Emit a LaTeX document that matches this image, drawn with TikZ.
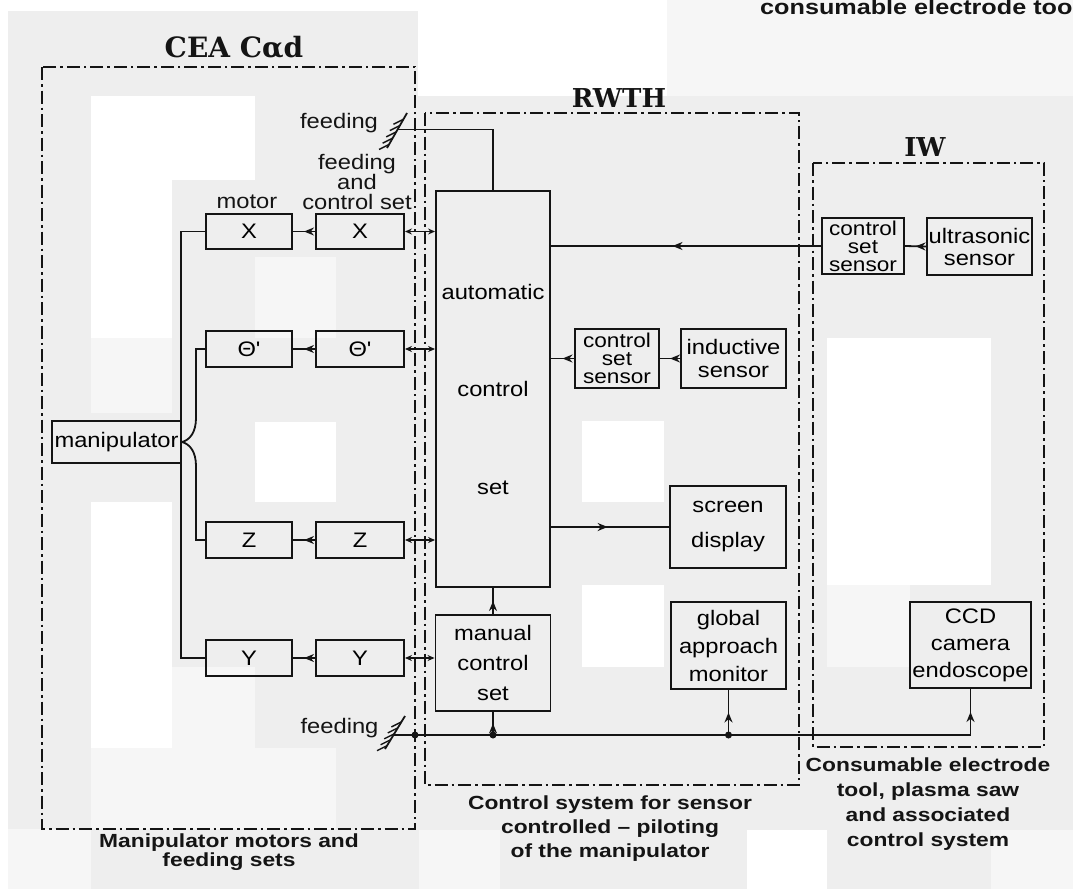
\documentclass[tikz,border=0pt]{standalone}
\usepackage{fontspec}
\setmainfont{Liberation Sans}
\newfontfamily\labfont[FakeStretch=1.13]{Liberation Sans}
\newfontfamily\capfont[FakeStretch=1.2]{Liberation Sans}
\newfontfamily\ttlfont{DejaVu Serif}
\usetikzlibrary{arrows.meta,decorations.markings,calc}
\definecolor{ink}{RGB}{20,20,20}
\definecolor{bggray}{RGB}{238,238,238}
\definecolor{bglight}{RGB}{246,246,246}
\tikzset{
  box/.style={draw=ink, line width=1.9pt, inner sep=0pt, align=center,
    font=\labfont\fontsize{21}{21}\selectfont},
  lbl/.style={inner sep=0pt, align=center, text=ink, font=\labfont\fontsize{21}{20}\selectfont},
  ttl/.style={inner sep=0pt, text=ink, font=\ttlfont\bfseries\fontsize{26}{26}\selectfont},
  captxt/.style={inner sep=0pt, align=center, text=ink, font=\capfont\bfseries\fontsize{19}{19}\selectfont},
  region/.style={draw=ink, line width=1.6pt, dash pattern=on 13pt off 4pt on 2.5pt off 4pt},
  wire/.style={draw=ink, line width=1.8pt},
  hatchline/.style={draw=ink, line width=1.4pt},
  midarrow/.style={postaction={decorate}, decoration={markings,
    mark=at position #1 with {\arrow{Stealth[length=10pt,width=8pt]}}}},
  midarrow/.default=0.5,
  dbl/.style={wire, {Stealth[length=7pt,width=6pt]}-{Stealth[length=7pt,width=6pt]}},
}
\begin{document}
\begin{tikzpicture}[x=1pt,y=-1pt]
\useasboundingbox (0,0) rectangle (1073,889);
% background
\fill[white] (0,0) rectangle (1073,889);
\fill[bggray] (8,11) rectangle (1073,889);
\fill[white] (418,0) rectangle (667,96);
\fill[bglight] (667,0) rectangle (1073,96);
\fill[white] (91,96) rectangle (255,180);
\fill[white] (91,180) rectangle (172,338);
\fill[bglight] (91,338) rectangle (172,413);
\fill[bglight] (255,257) rectangle (336,338);
\fill[white] (255,422) rectangle (336,502);
\fill[white] (91,502) rectangle (172,748);
\fill[bglight] (172,667) rectangle (255,748);
\fill[bglight] (91,748) rectangle (336,829);
\fill[bglight] (8,829) rectangle (91,889);
\fill[white] (582,421) rectangle (664,502);
\fill[white] (582,585) rectangle (664,667);
\fill[white] (827,338) rectangle (991,585);
\fill[bglight] (827,585) rectangle (910,667);
\fill[white] (747,830) rectangle (827,889);
\fill[bglight] (419,830) rectangle (500,889);
\fill[bglight] (991,830) rectangle (1073,889);

% top cut-off text
\node[captxt, anchor=base west, font=\capfont\bfseries\fontsize{21}{21}\selectfont] (toptext) at (760,14) {consumable electrode too};

% regions
\draw[region] (42,67) rectangle (415,829);
\draw[region] (425,113) rectangle (799,785);
\draw[region] (813,163) rectangle (1044,747);
\node[ttl, font=\ttlfont\bfseries\fontsize{28}{28}\selectfont] (tCEA) at (234,47) {CEA Cαd};
\node[ttl] (tRWTH) at (619,98) {RWTH};
\node[ttl] (tIW) at (925,147) {IW};

% boxes
\node[box, minimum width=86pt, minimum height=35pt] (mX) at (249,231.5) {X};
\node[box, minimum width=88pt, minimum height=35pt] (cX) at (360,231.5) {X};
\node[box, minimum width=86pt, minimum height=36pt] (mT) at (249,349) {Θ'};
\node[box, minimum width=88pt, minimum height=36pt] (cT) at (360,349) {Θ'};
\node[box, minimum width=86pt, minimum height=36pt] (mZ) at (249,540) {Z};
\node[box, minimum width=88pt, minimum height=36pt] (cZ) at (360,540) {Z};
\node[box, minimum width=86pt, minimum height=36pt] (mY) at (249,658) {Y};
\node[box, minimum width=88pt, minimum height=36pt] (cY) at (360,658) {Y};
\node[box, minimum width=129pt, minimum height=42pt] (man) at (116.5,442) {manipulator};
\node[box, minimum width=114pt, minimum height=396pt,
  font=\labfont\fontsize{21}{97.5}\selectfont] (auto) at (493,389) {automatic\\control\\set};
\node[box, minimum width=115pt, minimum height=96pt,
  font=\labfont\fontsize{21}{30}\selectfont] (manual) at (493,663) {manual\\control\\set};
\node[box, minimum width=84pt, minimum height=59pt,
  font=\labfont\fontsize{20}{18}\selectfont] (csR) at (617,358.5) {control\\set\\sensor};
\node[box, minimum width=105pt, minimum height=59pt,
  font=\labfont\fontsize{21}{23}\selectfont] (ind) at (733.5,358.5) {inductive\\sensor};
\node[box, minimum width=116pt, minimum height=82pt,
  font=\labfont\fontsize{21}{35}\selectfont] (scr) at (728,527) {screen\\display};
\node[box, minimum width=115pt, minimum height=87pt,
  font=\labfont\fontsize{21}{28}\selectfont] (glob) at (728.5,645.5) {global\\approach\\monitor};
\node[box, minimum width=82pt, minimum height=56pt,
  font=\labfont\fontsize{20}{18}\selectfont] (csI) at (863,246) {control\\set\\sensor};
\node[box, minimum width=105pt, minimum height=57pt,
  font=\labfont\fontsize{21}{22}\selectfont] (ult) at (979.5,246.5) {ultrasonic\\sensor};
\node[box, minimum width=121pt, minimum height=86pt,
  font=\labfont\fontsize{21}{27}\selectfont] (ccd) at (970.5,645) {CCD\\camera\\endoscope};

% labels
\node[lbl] (fdT) at (339,123) {feeding};
\node[lbl] (fac) at (357,182) {feeding\\and\\control set};
\node[lbl] (mot) at (247,202) {motor};
\node[lbl] (fdB) at (339.5,728) {feeding};

% motor bus
\coordinate (busT) at (181,231.5);
\coordinate (busB) at (181,658);
\draw[wire] (mX.west) -- (busT) -- (busB) -- (mY.west);
\draw[wire] (man.east) .. controls (190,440) and (196,432) .. (196,418) |- (mT.west);
\draw[wire] (man.east) .. controls (190,444) and (196,452) .. (196,466) |- (mZ.west);

% control set -> motor
\draw[wire, midarrow] (cX.west) -- (mX.east);
\draw[wire, midarrow] (cT.west) -- (mT.east);
\draw[wire, midarrow] (cZ.west) -- (mZ.east);
\draw[wire, midarrow] (cY.west) -- (mY.east);

% automatic / manual <-> control sets
\draw[dbl] (auto.west |- cX.east) -- (cX.east);
\draw[dbl] (auto.west |- cT.east) -- (cT.east);
\draw[dbl] (auto.west |- cZ.east) -- (cZ.east);
\draw[dbl] (manual.west |- cY.east) -- (cY.east);

% top feeding
\coordinate (hT1) at (387,148);
\coordinate (hT2) at (407,113);
\coordinate (fT) at (397.6,129.5);
\draw[wire] (hT1) -- (hT2);
\foreach \t in {0.1,0.28,0.46,0.64,0.82}
  \draw[hatchline] ($(hT1)!\t!(hT2)$) -- ++(-10,5);
\draw[wire] (fT) -| (auto.north);

% bottom feeding bus
\coordinate (hB1) at (385,749);
\coordinate (hB2) at (405,716);
\coordinate (fB) at (393.4,735);
\draw[wire] (hB1) -- (hB2);
\foreach \t in {0.1,0.28,0.46,0.64,0.82}
  \draw[hatchline] ($(hB1)!\t!(hB2)$) -- ++(-10,5);
\coordinate (j0) at (415,735);
\coordinate (j1) at (manual.south |- fB);
\coordinate (j2) at (glob.south |- fB);
\coordinate (j3) at (ccd.south |- fB);
\draw[wire] (fB) -- (j3);
\draw[wire, midarrow] (j3) -- (ccd.south);
\draw[wire, midarrow] (j1) -- (manual.south);
\draw[wire, midarrow] (j2) -- (glob.south);
\fill[ink] (j0) circle (3.5pt);
\fill[ink] (j1) circle (3.5pt);
\fill[ink] (j2) circle (3.5pt);

% sensors and displays
\draw[wire, midarrow] (manual.north) -- (auto.south);
\draw[wire, midarrow=0.55] (csI.west) -- (auto.east |- csI.west);
\draw[wire, midarrow] (ult.west) -- (csI.east);
\draw[wire, midarrow] (ind.west) -- (csR.east);
\draw[wire, midarrow] (csR.west) -- (auto.east |- csR.west);
\draw[wire, midarrow=0.48] (auto.east |- scr.west) -- (scr.west);

% captions
\node[captxt] (capCEA) at (229,852) {Manipulator motors and\\feeding sets};
\node[captxt, font=\capfont\bfseries\fontsize{19}{24}\selectfont] (capRWTH) at (610,829) {Control system for sensor\\controlled – piloting\\of the manipulator};
\node[captxt, font=\capfont\bfseries\fontsize{19}{25}\selectfont] (capIW) at (928,804) {Consumable electrode\\tool, plasma saw\\and associated\\control system};
\end{tikzpicture}
\end{document}
